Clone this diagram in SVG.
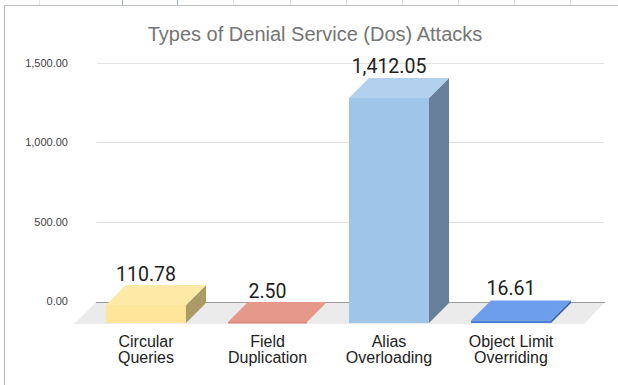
<svg xmlns="http://www.w3.org/2000/svg" width="618" height="385" viewBox="0 0 618 385">
  <style>
    .title { font-family: "Liberation Sans", Arial, sans-serif; font-size: 20px; fill: #757575; text-anchor: middle; }
    .ytick { font-family: "Liberation Sans", Arial, sans-serif; font-size: 11px; fill: #444444; text-anchor: end; }
    .cat { font-family: "Liberation Sans", Arial, sans-serif; font-size: 16px; fill: #222222; text-anchor: middle; }
    .val { font-family: Roboto, "Liberation Sans", sans-serif; font-size: 19.5px; fill: #212121; text-anchor: middle; }
    .grid { stroke: #e3e3e3; stroke-width: 1; }
    .tick { stroke: #e2e2e2; stroke-width: 1; }
  </style>

  <rect x="0" y="0" width="618" height="385" fill="#ffffff"/>

  <!-- faint sheet cell ticks around the chart frame -->
  <g id="sheet-ticks">
    <line class="tick" x1="39.5" y1="0" x2="39.5" y2="5"/>
    <line x1="122.5" y1="0" x2="122.5" y2="5" stroke="#8fa9d8"/>
    <line x1="177.5" y1="0" x2="177.5" y2="5" stroke="#8fa9d8"/>
    <line class="tick" x1="233.5" y1="0" x2="233.5" y2="5"/>
    <line class="tick" x1="290.5" y1="0" x2="290.5" y2="5"/>
    <line class="tick" x1="346.5" y1="0" x2="346.5" y2="5"/>
    <line class="tick" x1="402.5" y1="0" x2="402.5" y2="5"/>
    <line class="tick" x1="458.5" y1="0" x2="458.5" y2="5"/>
    <line class="tick" x1="514.5" y1="0" x2="514.5" y2="5"/>
    <line class="tick" x1="570.5" y1="0" x2="570.5" y2="5"/>
  </g>

  <!-- chart frame (top and left edges) -->
  <path d="M4.5 385 V5.5 H618" fill="none" stroke="#bdbdbd" stroke-width="1.2"/>

  <text class="title" x="315" y="41">Types of Denial Service (Dos) Attacks</text>

  <!-- value axis -->
  <g id="axis">
    <line class="grid" x1="97" y1="63.5" x2="604" y2="63.5"/>
    <line class="grid" x1="97" y1="142.5" x2="604" y2="142.5"/>
    <line class="grid" x1="97" y1="222.5" x2="604" y2="222.5"/>
    <text class="ytick" x="68" y="67">1,500.00</text>
    <text class="ytick" x="68" y="146">1,000.00</text>
    <text class="ytick" x="68" y="226">500.00</text>
    <text class="ytick" x="68" y="305">0.00</text>
  </g>

  <!-- floor -->
  <g id="floor">
    <polygon points="74,324 584,324 605,302 96,302" fill="#ebebeb"/>
    <line x1="96" y1="302.5" x2="605" y2="302.5" stroke="#9e9e9e" stroke-width="1"/>
  </g>

  <!-- bars -->
  <g id="circular-queries">
    <polygon points="186,305 206,285 206,303 186,323" fill="#ab9b66"/>
    <polygon points="106,305 126,285 206,285 186,305" fill="#ffe9a6"/>
    <rect x="106" y="305" width="80" height="18" fill="#ffe599"/>
    <text class="val" x="146" y="281">110.78</text>
    <text class="cat" x="146" y="347">Circular</text>
    <text class="cat" x="146" y="363">Queries</text>
  </g>

  <g id="field-duplication">
    <polygon points="228,322 248,302 327,302 307,322" fill="#e6998a"/>
    <rect x="228" y="322" width="79" height="1.5" fill="#d98a7b"/>
    <text class="val" x="267.5" y="298">2.50</text>
    <text class="cat" x="267.5" y="347">Field</text>
    <text class="cat" x="267.5" y="363">Duplication</text>
  </g>

  <g id="alias-overloading">
    <polygon points="429,98 449,78 449,303 429,323" fill="#677f98"/>
    <polygon points="349,98 369,78 449,78 429,98" fill="#b1d1ee"/>
    <rect x="349" y="98" width="80" height="225" fill="#9fc5e8"/>
    <text class="val" x="389" y="73">1,412.05</text>
    <text class="cat" x="389" y="347">Alias</text>
    <text class="cat" x="389" y="363">Overloading</text>
  </g>

  <g id="object-limit-overriding">
    <polygon points="551,320.5 571,300.5 571,303 551,323" fill="#3a5f9e"/>
    <polygon points="471,320.5 491,300.5 571,300.5 551,320.5" fill="#6d9eeb"/>
    <rect x="471" y="320.5" width="80" height="2.5" fill="#4a7fd6"/>
    <text class="val" x="511" y="295">16.61</text>
    <text class="cat" x="511" y="347">Object Limit</text>
    <text class="cat" x="511" y="363">Overriding</text>
  </g>

  <!-- no connectors in this chart -->
  <g id="connectors"/>
</svg>
